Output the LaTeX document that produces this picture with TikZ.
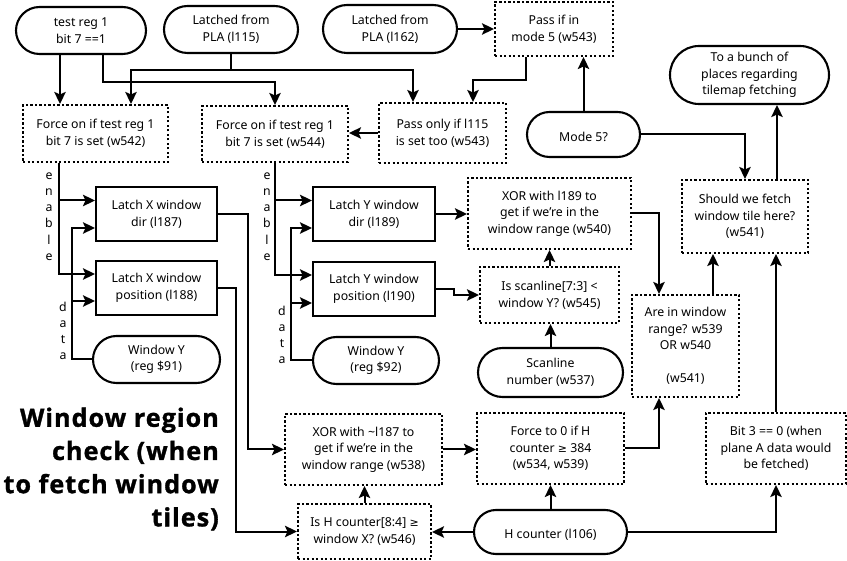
\documentclass[tikz,border=0pt]{standalone}
\usepackage{fontspec}
\setmainfont{Noto Sans}
\newfontfamily\titlef{Open Sans}[BoldFeatures={FakeBold=1.2,LetterSpace=4}]
\newfontfamily\symf{DejaVu Sans}
\newcommand{\gee}{{\symf\fontsize{11}{16.6}\selectfont ≥}}
\usetikzlibrary{arrows.meta,calc}
\tikzset{
  base/.style={inner sep=0pt, align=center, font=\fontsize{12.3}{16.6}\selectfont, line width=2.1pt,
    execute at begin node={\rule{0pt}{14.4pt}}},
  solidbox/.style={base, draw, rectangle},
  dotbox/.style={base, draw, rectangle, dash pattern=on 2.2pt off 2.3pt},
  pill/.style={base, draw, rectangle, rounded corners=#1},
  pill/.default=23pt,
  conn/.style={line width=2pt},
  arr/.style={conn, -{Stealth[length=12pt,width=11.5pt,inset=2.5pt]}},
  vlab/.style={inner sep=0pt, align=center, font=\fontsize{12.3}{16.2}\selectfont},
}
\begin{document}
\begin{tikzpicture}[x=1pt,y=-1pt]
\useasboundingbox (0,0) rectangle (847,561);
% nodes
\node[pill=23.5pt, minimum width=130pt, minimum height=47pt] (t1) at (81,30.5) {test reg 1\\bit 7 ==1};
\node[pill=23.5pt, minimum width=134pt, minimum height=47pt] (l115) at (231,29.5) {Latched from\\PLA (l115)};
\node[pill=24pt, minimum width=134pt, minimum height=48pt] (l162) at (390,29) {Latched from\\PLA (l162)};
\node[dotbox, minimum width=118pt, minimum height=54pt] (pm5) at (554,29) {Pass if in\\mode 5 (w543)};
\node[dotbox, minimum width=145pt, minimum height=57pt] (f542) at (95.5,133.5) {Force on if test reg 1\\bit 7 is set (w542)};
\node[dotbox, minimum width=146pt, minimum height=56pt] (f544) at (275,134) {Force on if test reg 1\\bit 7 is set (w544)};
\node[dotbox, minimum width=127pt, minimum height=60pt] (po) at (442.5,133) {Pass only if l115\\is set too (w543)};
\node[pill=22.5pt, minimum width=113pt, minimum height=45pt] (m5) at (583.5,134.5) {Mode 5?};
\node[pill=29pt, minimum width=159pt, minimum height=58pt] (bunch) at (749.5,75) {To a bunch of\\places regarding\\tilemap fetching};
\node[dotbox, minimum width=126pt, minimum height=73pt] (sf) at (745,216.5) {Should we fetch\\window tile here?\\(w541)};
\node[solidbox, minimum width=121pt, minimum height=54pt] (lxd) at (156.5,214) {Latch X window\\dir (l187)};
\node[solidbox, minimum width=121pt, minimum height=54pt] (lxp) at (156.5,288) {Latch X window\\position (l188)};
\node[pill=23.5pt, minimum width=127pt, minimum height=47pt] (wy91) at (156.5,359.5) {Window Y\\(reg \$91)};
\node[solidbox, minimum width=122pt, minimum height=54pt] (lyd) at (374,214) {Latch Y window\\dir (l189)};
\node[solidbox, minimum width=122pt, minimum height=54pt] (lyp) at (374,289) {Latch Y window\\position (l190)};
\node[pill=23.5pt, minimum width=126pt, minimum height=47pt] (wy92) at (376,360.5) {Window Y\\(reg \$92)};
\node[dotbox, minimum width=163pt, minimum height=71pt] (x540) at (549.5,213.5) {XOR with l189 to\\get if we're in the\\window range (w540)};
\node[dotbox, minimum width=139pt, minimum height=56pt] (s545) at (549.5,295) {Is scanline[7:3] <\\window Y? (w545)};
\node[pill=24.5pt, minimum width=145pt, minimum height=49pt] (sn) at (550.5,372.5) {Scanline\\number (w537)};
\node[dotbox, minimum width=107pt, minimum height=102pt] (aw) at (685.5,346) {Are in window\\range? w539\\OR w540\\\mbox{}\\(w541)};
\node[dotbox, minimum width=157pt, minimum height=71pt] (x538) at (363.5,449.5) {XOR with \textasciitilde l187 to\\get if we're in the\\window range (w538)};
\node[dotbox, minimum width=147pt, minimum height=71pt] (f0) at (550.5,448.5) {Force to 0 if H\\counter \gee{} 384\\(w534, w539)};
\node[dotbox, minimum width=133pt, minimum height=55pt] (ih) at (364.5,531.5) {Is H counter[8:4] \gee\\window X? (w546)};
\node[pill=22pt, minimum width=153pt, minimum height=44pt] (hc) at (550.5,532) {H counter (l106)};
\node[dotbox, minimum width=140pt, minimum height=71pt] (b3) at (776,448.5) {Bit 3 == 0 (when\\plane A data would\\be fetched)};
% labels
\node[vlab] (en1) at (49,216.5) {e\\n\\a\\b\\l\\e};
\node[vlab] (en2) at (267,216.5) {e\\n\\a\\b\\l\\e};
\node[vlab] (da1) at (63,331) {d\\a\\t\\a};
\node[vlab] (da2) at (282,335) {d\\a\\t\\a};
\node[inner sep=0pt, anchor=east, align=right, font=\titlef\fontsize{25.2}{33.2}\selectfont\bfseries] (title) at (219,469) {Window region\\check (when\\to fetch window\\tiles)};
% junction coordinates
\coordinate (j115) at (231,70);
\coordinate (ex1) at (59,200.5);
\coordinate (dx1) at (72,301);
\coordinate (ey1) at (275,200.5);
\coordinate (dy1) at (291,303);
% connectors
\draw[arr] (t1.south -| 60,0) -- (f542.north -| 60,0);
\draw[arr] (t1.south -| 103,0) |- (f544.north |- 0,82) -- (f544.north);
\draw[conn] (l115.south) -- (j115);
\draw[arr] (j115) -| (f542.north -| 131,0);
\draw[arr] (j115) -| (po.north -| 413,0);
\draw[arr] (l162.east) -- (pm5.west |- l162.east);
\draw[arr] (pm5.south -| 526,0) |- (473,80) -- (po.north -| 473,0);
\draw[arr] (po.west) -- (f544.east |- po.west);
\draw[arr] (m5.north) -- (pm5.south -| m5.north);
\draw[arr] (m5.east) -| (sf.north);
\draw[arr] (sf.north -| 777,0) -- (bunch.south -| 777,0);
% enable / data X
\draw[arr] (f542.south -| 59,0) |- (lxp.west |- 0,274);
\draw[arr] (ex1) -- (lxd.west |- ex1);
\draw[arr] (wy91.west) -| (72,228) -- (lxd.west |- 0,228);
\draw[arr] (dx1) -- (lxp.west |- dx1);
% enable / data Y
\draw[arr] (f544.south) |- (lyp.west |- 0,275);
\draw[arr] (ey1) -- (lyd.west |- ey1);
\draw[arr] (wy92.west) -| (291,228) -- (lyd.west |- 0,228);
\draw[arr] (dy1) -- (lyp.west |- dy1);
% Y path
\draw[arr] (lyd.east) -- (x540.west |- lyd.east);
\draw[arr] (lyp.east) -- (454,289) -- (454,295) -- (s545.west);
\draw[arr] (s545.north) -- (x540.south);
\draw[arr] (sn.north) -- (s545.south -| sn.north);
% X path
\draw[arr] (lxd.east) -| (248,0 |- x538.west) -- (x538.west);
\draw[arr] (lxp.east) -| (236,0 |- ih.west) -- (ih.west);
\draw[arr] (x538.east) -- (f0.west |- x538.east);
\draw[arr] (ih.north) -- (x538.south -| ih.north);
\draw[arr] (hc.west) -- (ih.east |- hc.west);
\draw[arr] (hc.north) -- (f0.south);
% right side
\draw[arr] (f0.east) -| (659,0 |- aw.south);
\draw[arr] (x540.east) -| (659,0 |- aw.north);
\draw[arr] (hc.east) -| (b3.south);
\draw[arr] (b3.north) -- (sf.south -| b3.north);
\draw[arr] (aw.north -| 713,0) -- (sf.south -| 713,0);
\end{tikzpicture}
\end{document}
